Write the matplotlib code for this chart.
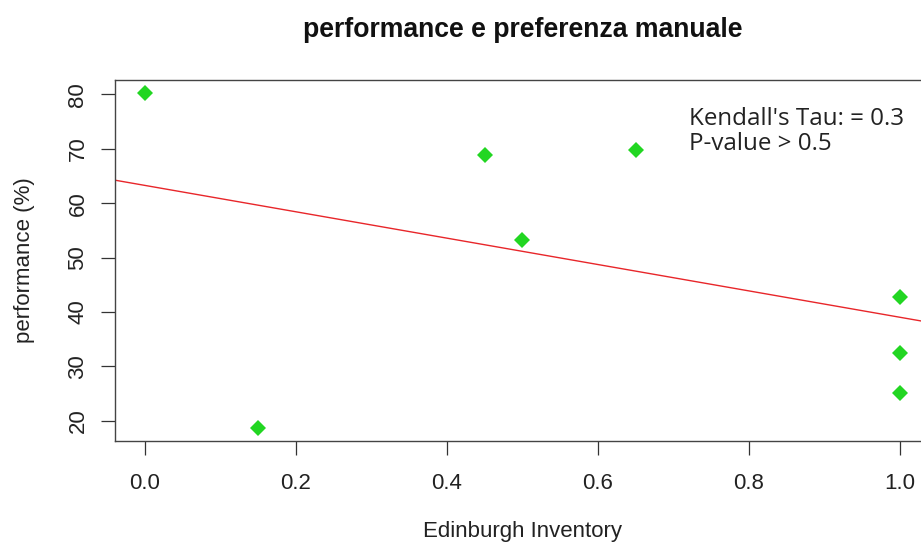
import numpy as np
import matplotlib.pyplot as plt

# Edinburgh Inventory score vs. performance (%)
edinburgh = [0.0, 0.15, 0.45, 0.50, 0.65, 1.0, 1.0, 1.0]
performance = [80.2, 18.7, 68.8, 53.2, 69.7, 42.8, 32.4, 25.1]
x_ticks = [0.0, 0.2, 0.4, 0.6, 0.8, 1.0]
y_ticks = [20, 30, 40, 50, 60, 70, 80]
legend_lines = ["Kendall's Tau: = 0.3", "P-value > 0.5"]

plt.rcParams['font.family'] = 'Liberation Sans'

fig = plt.figure(figsize=(9.21, 5.50), dpi=100)
W, H = 921, 550
# plot region (right border falls just outside the image)
ax = fig.add_axes([114.8 / W, 1 - 441 / H, (930 - 114.8) / W, (441 - 80) / H])

x = np.array(edinburgh)
y = np.array(performance)
ax.plot(x, y, linestyle='none', marker='D', markersize=8.6,
        color='#22d622', markeredgewidth=0, zorder=3)

# least-squares fit line across the whole plot
slope, intercept = np.polyfit(x, y, 1)
xx = np.array([-0.1, 1.2])
ax.plot(xx, intercept + slope * xx, color='#e8262a', lw=1.0, zorder=2)

# R-style 4% padding
xr = x.max() - x.min()
yr = y.max() - y.min()
ax.set_xlim(x.min() - 0.04 * xr, x.max() + 0.04 * xr)
ax.set_ylim(y.min() - 0.04 * yr, y.max() + 0.04 * yr)

ax.set_xticks(x_ticks)
ax.set_xticklabels([f'{t:.1f}' for t in x_ticks], fontsize=16)
ax.set_yticks(y_ticks)
ax.set_yticklabels([str(t) for t in y_ticks], fontsize=16,
                   rotation=90, va='center')
ax.tick_params(length=10, width=0.9, color='#333333', labelcolor='#222222')
ax.tick_params(axis='x', pad=13)
ax.tick_params(axis='y', pad=9)

for s in ax.spines.values():
    s.set_color('#444444')
    s.set_linewidth(1.0)

ax.set_xlabel('Edinburgh Inventory', fontsize=16, color='#222222', va='center')
ax.xaxis.set_label_coords(0.5, (441 - 532) / 361)
ax.set_ylabel('performance (%)', fontsize=16, color='#222222', va='center')
ax.yaxis.set_label_coords((24.5 - 114.8) / 815.2, 0.5)

fig.text((114.8 + 930) / 2 / W, 1 - 36.7 / H, 'performance e preferenza manuale',
         ha='center', va='baseline', fontsize=19.2, fontweight='bold',
         color='#111111')

ax.text(0.704, 0.875, legend_lines[0], transform=ax.transAxes, fontsize=17.4,
        family='Open Sans', va='baseline', color='#222222')
ax.text(0.704, 0.807, legend_lines[1], transform=ax.transAxes, fontsize=17.4,
        family='Open Sans', va='baseline', color='#222222')

fig.savefig('out.png', dpi=100)
